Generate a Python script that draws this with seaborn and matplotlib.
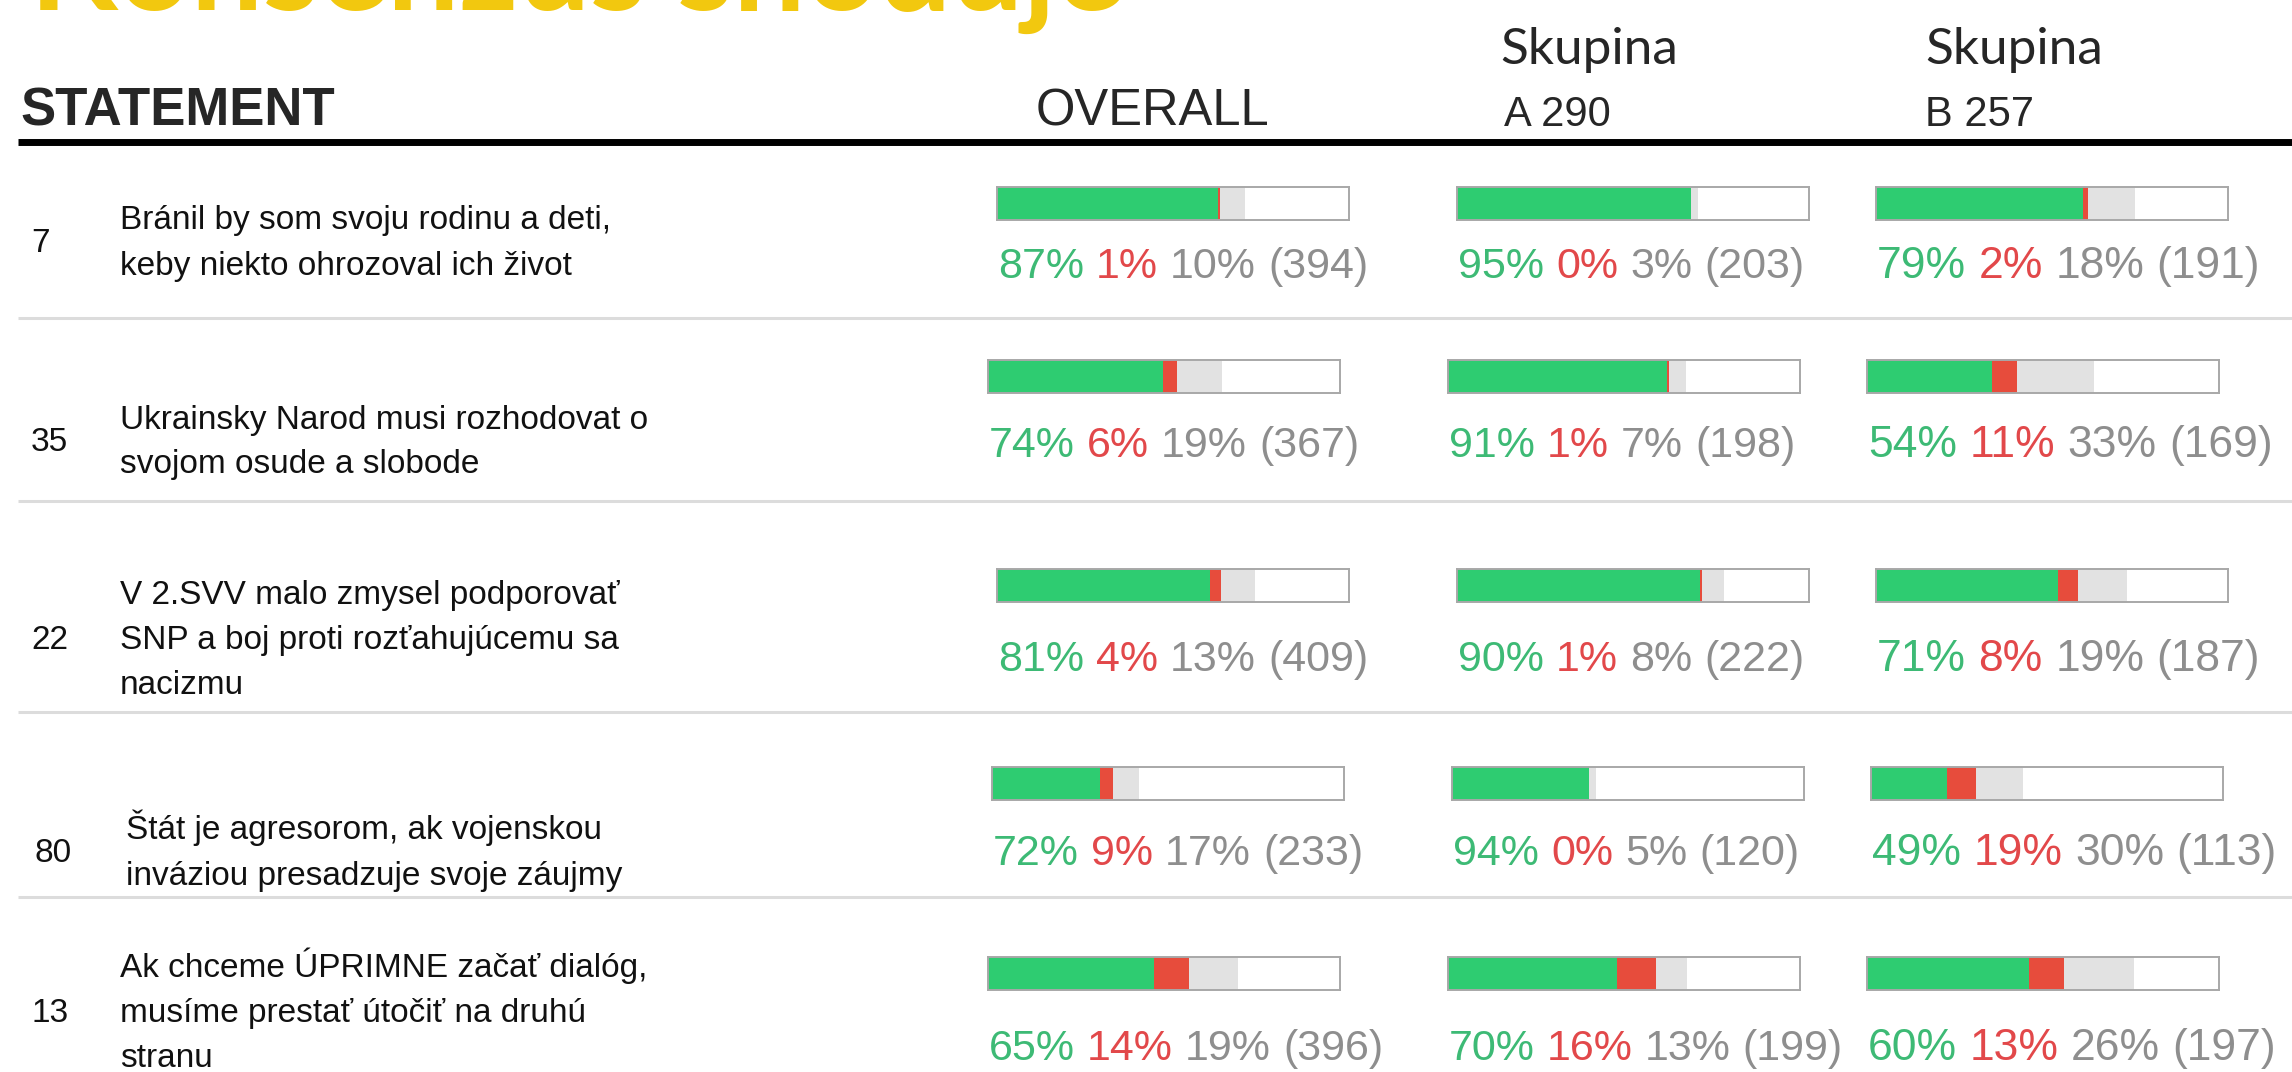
import matplotlib
matplotlib.use("Agg")
import matplotlib.pyplot as plt
import seaborn as sns

W, H = 2292, 1072

# --- data -------------------------------------------------------------
statement_ids = ["7", "35", "22", "80", "13"]
statements = [
    "Bránil by som svoju rodinu a deti,\nkeby niekto ohrozoval ich život",
    "Ukrainsky Narod musi rozhodovat o\nsvojom osude a slobode",
    "V 2.SVV malo zmysel podporovať\nSNP a boj proti rozťahujúcemu sa\nnacizmu",
    "Štát je agresorom, ak vojenskou\ninváziou presadzuje svoje záujmy",
    "Ak chceme ÚPRIMNE začať dialóg,\nmusíme prestať útočiť na druhú\nstranu",
]
group_sizes = [547, 290, 257]   # overall, skupina A, skupina B

agree_overall = [87, 74, 81, 72, 65]
disagree_overall = [1, 6, 4, 9, 14]
pass_overall = [10, 19, 13, 17, 19]
votes_overall = [394, 367, 409, 233, 396]

agree_a = [95, 91, 90, 94, 70]
disagree_a = [0, 1, 1, 0, 16]
pass_a = [3, 7, 8, 5, 13]
votes_a = [203, 198, 222, 120, 199]

agree_b = [79, 54, 71, 49, 60]
disagree_b = [2, 11, 8, 19, 13]
pass_b = [18, 33, 19, 30, 26]
votes_b = [191, 169, 187, 113, 197]

columns = [
    (agree_overall, disagree_overall, pass_overall, votes_overall),
    (agree_a, disagree_a, pass_a, votes_a),
    (agree_b, disagree_b, pass_b, votes_b),
]

# --- layout (pixels from top-left) -----------------------------------
bar_left = [997, 1457, 1876]
row_shift = [0, -9, 0, -5, -9]          # the screenshot rows are not quite aligned
bar_w, bar_h = 352, 33
bar_mid = [203, 376, 585, 783, 973]
pct_base = [278, 457, 671, 865, 1060]
pct_size = [31, 31, 32]
text_mid = [240, 439, 637, 850, 1010]
text_x = [120, 120, 120, 126, 120]
num_x = [31, 31, 31, 35, 31]
sep_y = [318, 501, 712, 897]
line_gap = 45
TXT = 24

GREEN, RED, GREY = "#2ecc71", "#e74c3c", "#e2e2e2"
T_GREEN, T_RED, T_GREY = "#3dba75", "#e2484a", "#8e8e8e"
ARIAL = ["Liberation Sans", "DejaVu Sans"]
GEO = "Lato"

sns.set_theme(style="white")
plt.rcParams["font.family"] = ARIAL

fig = plt.figure(figsize=(W / 100, H / 100), dpi=100)
fig.patch.set_facecolor("white")

bg = fig.add_axes([0, 0, 1, 1])
bg.set_xlim(0, W)
bg.set_ylim(H, 0)
bg.axis("off")

# title (cut off at the top edge in the original)
bg.text(30, 10, "Konsenzus shoduje", fontsize=92, fontweight="bold",
        family=GEO, color="#f2c80f", va="baseline", ha="left")

# header
bg.text(20, 126, "STATEMENT", fontsize=38, fontweight="bold", va="baseline")
bg.text(1036, 126, "OVERALL", fontsize=36.5, va="baseline")
bg.text(1500, 64, "Skupina", fontsize=37, family=GEO, va="baseline")
bg.text(1504, 126, "A 290", fontsize=30, va="baseline")
bg.text(1925, 64, "Skupina", fontsize=37, family=GEO, va="baseline")
bg.text(1925, 126, "B 257", fontsize=30, va="baseline")
bg.hlines(142, 18, W, color="black", lw=5.0)

for y in sep_y:
    bg.hlines(y, 18, W, color="#dcdcdc", lw=2.2)

# statements
for i, (sid, txt) in enumerate(zip(statement_ids, statements)):
    lines = txt.split("\n")
    bg.text(num_x[i], text_mid[i] + 12, sid, fontsize=TXT, va="baseline", color="#111111")
    n = len(lines)
    for k, line in enumerate(lines):
        y = text_mid[i] + (k - (n - 1) / 2) * line_gap + 12
        bg.text(text_x[i], y, line, fontsize=TXT, va="baseline", color="#111111")


def pct_label(x, y, size, parts):
    prev = bg.text(x, y, parts[0][0], fontsize=size, color=parts[0][1], va="baseline")
    for s, c in parts[1:]:
        prev = bg.annotate(s, xy=(1, 0), xycoords=prev, xytext=(size * 0.28, 0),
                           textcoords="offset points", fontsize=size, color=c,
                           va="bottom", ha="left")


# bars
for j, (ag, dis, ps, votes) in enumerate(columns):
    n_group = group_sizes[j]
    for i in range(len(statements)):
        share = votes[i] / n_group
        a = ag[i] / 100 * share
        d = dis[i] / 100 * share
        p = ps[i] / 100 * share
        left, top = bar_left[j] + row_shift[i], bar_mid[i] - bar_h / 2
        ax = fig.add_axes([left / W, 1 - (top + bar_h) / H, bar_w / W, bar_h / H])
        # stacked: draw cumulative totals back to front
        for val, col in [(a + d + p, GREY), (a + d, RED), (a, GREEN)]:
            sns.barplot(x=[val], y=["s"], orient="h", color=col, saturation=1,
                        width=1, linewidth=0, ax=ax)
        ax.set_xlim(0, 1)
        ax.set_ylim(0.5, -0.5)
        ax.set_xticks([])
        ax.set_yticks([])
        ax.set_xlabel("")
        ax.set_ylabel("")
        for sp in ax.spines.values():
            sp.set_visible(True)
            sp.set_color("#a8a8a8")
            sp.set_linewidth(1.4)
        pct_label(left + 1, pct_base[i], pct_size[j], [
            (f"{ag[i]}%", T_GREEN), (f"{dis[i]}%", T_RED),
            (f"{ps[i]}%", T_GREY), (f"({votes[i]})", T_GREY)])

fig.savefig("out.png", dpi=100)
